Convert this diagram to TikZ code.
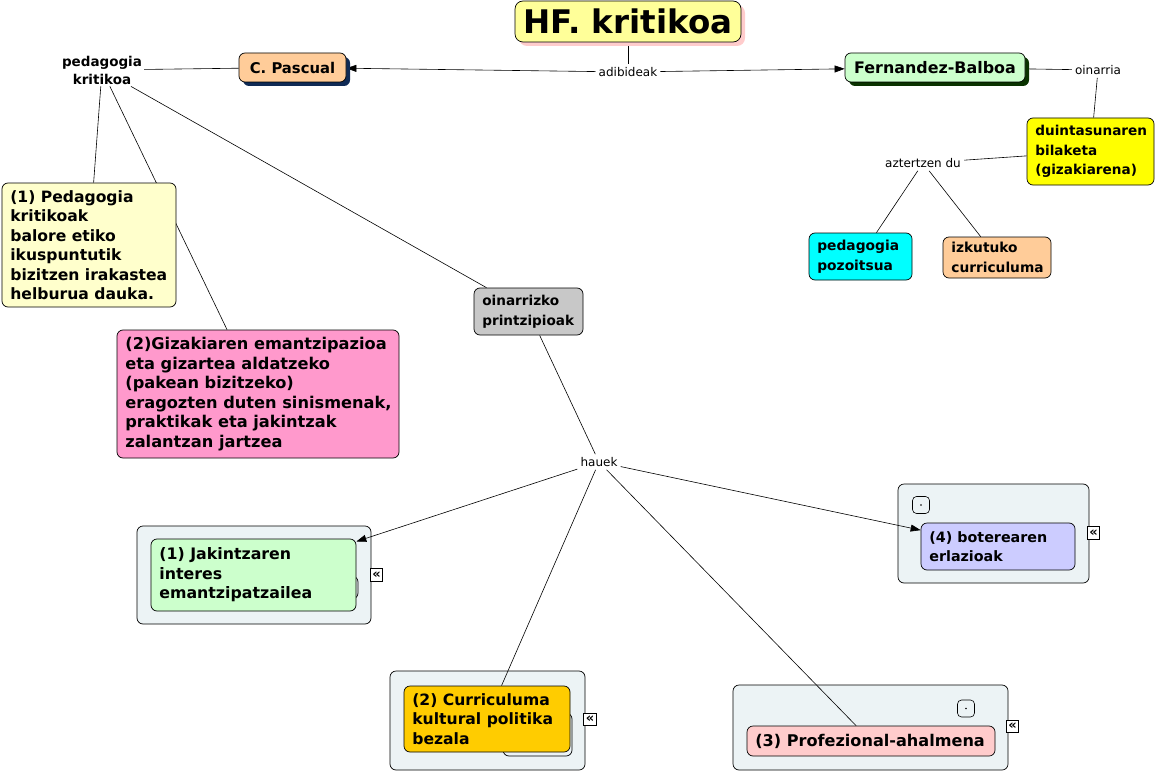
\documentclass[tikz,border=0pt]{standalone}
\usepackage{fontspec}
\setmainfont{DejaVu Sans}
\usetikzlibrary{arrows.meta,shadows}
\pgfdeclarelayer{bg}\pgfdeclarelayer{edges}
\pgfsetlayers{bg,edges,main}
\definecolor{cTitle}{HTML}{FFFF99}
\definecolor{cTitleSh}{HTML}{FFCCCC}
\definecolor{cPeach}{HTML}{FFCC99}
\definecolor{cNavy}{HTML}{0F2A55}
\definecolor{cLGreen}{HTML}{CCFFCC}
\definecolor{cDGreen}{HTML}{0A3300}
\definecolor{cYellow}{HTML}{FFFF00}
\definecolor{cCyan}{HTML}{00FFFF}
\definecolor{cCream}{HTML}{FFFFCC}
\definecolor{cPink}{HTML}{FF99CC}
\definecolor{cGray}{HTML}{C8C8C8}
\definecolor{cGroup}{HTML}{ECF3F5}
\definecolor{cLav}{HTML}{CCCCFF}
\definecolor{cGold}{HTML}{FFCC00}
\definecolor{cRose}{HTML}{FFCCCC}
\tikzset{
  fsz/.style={font=\bfseries\fontsize{#1}{19.5}\selectfont},
  bx/.style={draw, line width=0.7pt, rounded corners=6pt, inner sep=0pt},
  bxt/.style={anchor=west, align=left, inner sep=0pt},
  cbx/.style={draw, line width=0.7pt, rounded corners=6pt, align=center, inner sep=2pt, fsz=14.5},
  lbl/.style={inner sep=3pt, font=\fontsize{12}{14}\selectfont},
  grp/.style={draw, line width=0.7pt, rounded corners=6pt, fill=cGroup, inner sep=0pt},
  icon/.style={draw, line width=0.6pt, fill=white, inner sep=0pt, minimum size=12.5pt, font=\bfseries\fontsize{13}{13}\selectfont},
  dotbox/.style={draw, line width=0.6pt, rounded corners=4pt, inner sep=0pt, minimum size=17pt},
  edge/.style={draw, line width=0.6pt},
  arr/.style={edge, -{Triangle[length=10pt,width=7pt]}},
}
% #1 name, #2 centre, #3 width, #4 height, #5 fill, #6 font size, #7 text
\newcommand\mybox[7]{%
  \node[bx, fill=#5, minimum width=#3pt, minimum height=#4pt] (#1) at #2 {};
  \node[bxt, fsz=#6] (#1t) at ([xshift=8.5pt]#1.west) {#7};}
\begin{document}
\begin{tikzpicture}[x=1pt,y=-1pt]
\useasboundingbox (0,0) rectangle (1156,773);
% top
\node[cbx, fill=cTitle, rounded corners=8pt, minimum width=226pt, minimum height=41pt,
  font=\bfseries\fontsize{32.5}{36}\selectfont,
  drop shadow={shadow xshift=4pt, shadow yshift=-4pt, fill=cTitleSh, opacity=1}] (title) at (628,21.5) {HF. kritikoa};
\node[cbx, fsz=14.8, fill=cPeach, minimum width=107pt, minimum height=29pt,
  drop shadow={shadow xshift=4pt, shadow yshift=-4pt, fill=cNavy, opacity=1}] (pascual) at (292.5,67.5) {C. Pascual};
\node[cbx, fsz=15.9, fill=cLGreen, minimum width=180pt, minimum height=29pt,
  drop shadow={shadow xshift=4pt, shadow yshift=-4pt, fill=cDGreen, opacity=1}] (fern) at (935,67.5) {Fernandez-Balboa};
\node[align=center, inner sep=2pt, font=\bfseries\fontsize{13.5}{18}\selectfont] (pedk) at (102,70) {pedagogia\\kritikoa};
\node[lbl] (adib) at (628,72) {adibideak};
\node[lbl] (oin) at (1098,70) {oinarria};
\mybox{duin}{(1090.5,151.5)}{127}{67}{cYellow}{13.6}{duintasunaren\\bilaketa\\(gizakiarena)}
\node[lbl] (azt) at (923,163) {aztertzen du};
\mybox{pozoi}{(860.5,256.5)}{103}{47}{cCyan}{13.8}{pedagogia\\pozoitsua}
\mybox{izkut}{(997,257.5)}{108}{41}{cPeach}{13.75}{izkutuko\\curriculuma}
% left
\mybox{ped1}{(89,245)}{174}{124}{cCream}{15.6}{(1) Pedagogia\\kritikoak\\balore etiko\\ikuspuntutik\\bizitzen irakastea\\helburua dauka.}
\mybox{giz}{(258,394)}{282}{128}{cPink}{16.2}{(2)Gizakiaren emantzipazioa\\eta gizartea aldatzeko\\(pakean bizitzeko)\\eragozten duten sinismenak,\\praktikak eta jakintzak\\zalantzan jartzea}
\mybox{oinp}{(528.5,311.5)}{109}{47}{cGray}{13.6}{oinarrizko\\printzipioak}
\node[lbl] (hauek) at (599,462) {hauek};
% groups
\begin{pgfonlayer}{bg}
\node[grp, minimum width=234pt, minimum height=98pt] (g1) at (254,575) {};
\node[grp, minimum width=191pt, minimum height=99pt] (g4) at (993.5,533.5) {};
\node[grp, minimum width=195pt, minimum height=99pt] (g2) at (487.5,720.5) {};
\node[grp, minimum width=275pt, minimum height=85pt] (g3) at (870.5,727.5) {};
\end{pgfonlayer}
\node[grp, minimum width=58pt, minimum height=23pt] (b1) at (329,587.5) {};
\mybox{jak}{(253.5,575)}{205}{72}{cLGreen}{15.8}{(1) Jakintzaren\\interes\\emantzipatzailea}
\node[icon] (i1) at (376.5,575) {«};
\node[dotbox] (d4) at (921,505) {};
\fill (d4.center) circle (0.8pt);
\mybox{bot}{(998,546.5)}{154}{47}{cLav}{14.3}{(4) boterearen\\erlazioak}
\node[icon] (i4) at (1093.5,533) {«};
\node[grp, minimum width=69pt, minimum height=43pt] (b2) at (537.5,734.5) {};
\mybox{cur}{(487,719)}{166}{66}{cGold}{15.6}{(2) Curriculuma\\kultural politika\\bezala}
\node[icon] (i2) at (590,719.5) {«};
\node[dotbox] (d3) at (966,708.5) {};
\fill (d3.center) circle (0.8pt);
\mybox{prof}{(871,741)}{248}{30}{cRose}{16.1}{(3) Profezional-ahalmena}
\node[icon] (i3) at (1012.5,726.5) {«};
% edges
\begin{pgfonlayer}{edges}
\path[edge] (title) -- (adib);
\path[arr] (adib) -- (pascual);
\path[arr] (adib) -- (fern);
\path[edge] (pedk) -- (pascual);
\path[edge] (pedk) -- (ped1);
\path[edge] (pedk) -- (giz);
\path[edge] (pedk) -- (oinp);
\path[edge] (fern) -- (oin);
\path[edge] (oin) -- (duin);
\path[edge] (duin) -- (azt);
\path[edge] (azt) -- (pozoi);
\path[edge] (azt) -- (izkut);
\path[edge] (oinp) -- (hauek);
\path[arr] (hauek) -- (jak);
\path[arr] (hauek) -- (bot);
\path[edge] (hauek) -- (cur);
\path[edge] (hauek) -- (prof);
\end{pgfonlayer}
\end{tikzpicture}
\end{document}
